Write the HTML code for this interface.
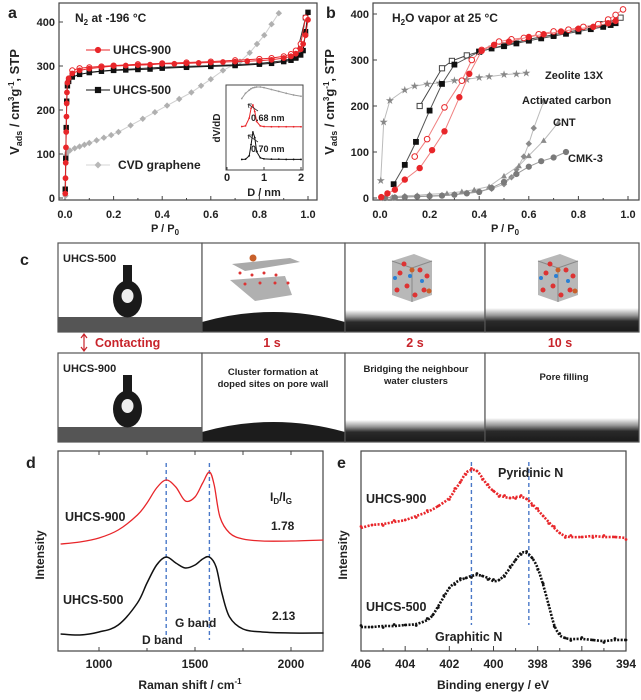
<!DOCTYPE html>
<html><head><meta charset="utf-8"><style>
html,body{margin:0;padding:0;background:#fff}
svg{display:block;font-family:"Liberation Sans",Arial,sans-serif;font-weight:bold}
text{fill:#222}
</style></head><body>
<svg id="fig" width="641" height="700" viewBox="0 0 641 700" xmlns="http://www.w3.org/2000/svg">
<g id="pa"></g>
<g id="pb"></g>
<g id="pc"></g>
<g id="pd"></g>
<g id="pe"></g>
</svg>
<script>
// ---------- Panel a data (N2 isotherms) ----------
const aP900 = [0.001,0.002,0.003,0.004,0.005,0.006,0.007,0.008,0.01,0.015,0.03,0.06,0.1,0.15,0.2,0.25,0.3,0.35,0.4,0.45,0.5,0.55,0.6,0.65,0.7,0.75,0.8,0.85,0.9,0.93,0.95,0.97,0.98,0.99,1.0];
const aV900 = [10,45,80,115,150,185,215,240,262,272,283,290,294,297,300,301,302,303,305,305,306,307,308,309,310,311,312,314,318,322,328,338,350,370,405];
const aP900d = [0.03,0.06,0.1,0.15,0.2,0.3,0.4,0.5,0.6,0.7,0.8,0.85,0.9,0.93,0.95,0.97,0.99];
const aV900d = [290,295,297,299,301,304,306,308,310,313,316,318,322,327,335,350,410];
const aP500 = [0.001,0.003,0.005,0.007,0.01,0.015,0.03,0.06,0.1,0.15,0.2,0.25,0.3,0.35,0.4,0.5,0.6,0.7,0.8,0.85,0.9,0.93,0.95,0.97,0.98,0.99,1.0];
const aV500 = [20,90,160,220,255,265,275,281,285,288,290,291,292,293,295,297,299,301,304,306,310,313,318,325,335,378,422];
const aP500d = [0.1,0.2,0.3,0.4,0.5,0.6,0.7,0.8,0.9,0.95,0.99];
const aV500d = [286,291,294,297,299,301,303,306,312,320,410];
const aPcvd = [0.002,0.005,0.01,0.02,0.04,0.06,0.08,0.1,0.13,0.16,0.19,0.22,0.27,0.32,0.37,0.42,0.47,0.52,0.56,0.6,0.65,0.72,0.76,0.79,0.82,0.85,0.88];
const aVcvd = [5,98,104,108,113,117,121,125,131,137,143,150,165,180,195,210,225,240,255,270,290,310,330,350,370,395,420];
const aXTicks = ["0.0","0.2","0.4","0.6","0.8","1.0"];
const aYTicks = ["0","100","200","300","400"];
// inset (pore size distributions)
const inD = [0.4,0.5,0.6,0.65,0.7,0.75,0.8,0.9,1.0,1.2,1.4,1.6,1.8,2.0];
const inGrey = [0.45,0.7,0.85,0.92,0.96,0.98,1.0,1.0,0.97,0.88,0.79,0.7,0.62,0.56];
const inRed = [0.02,0.05,0.4,0.85,1.0,0.7,0.25,0.05,0.02,0.01,0.01,0.01,0.01,0.01];
const inBlack = [0.02,0.03,0.15,0.55,1.0,0.8,0.3,0.08,0.04,0.03,0.03,0.02,0.02,0.02];

// ---------- Panel b data (H2O isotherms) ----------
const bZeoP = [0.003,0.015,0.04,0.1,0.14,0.19,0.24,0.3,0.35,0.4,0.44,0.5,0.55,0.59];
const bZeoV = [38,165,212,235,243,248,250,255,258,262,264,268,270,272];
const b500P = [0.055,0.1,0.145,0.2,0.25,0.3,0.4,0.45,0.5,0.55,0.6,0.65,0.7,0.75,0.8,0.85,0.9,0.93,0.95];
const b500V = [30,72,122,190,248,290,318,325,330,336,342,347,352,357,362,367,372,376,380];
const b500dP = [0.16,0.25,0.29,0.35,0.4,0.5,0.6,0.7,0.8,0.9,0.97];
const b500dV = [200,282,298,310,318,332,345,355,365,378,392];
const b900P = [0.005,0.03,0.06,0.1,0.16,0.21,0.26,0.32,0.36,0.41,0.46,0.52,0.6,0.66,0.73,0.8,0.86,0.92,0.95];
const b900V = [2,10,18,40,65,104,145,219,270,320,333,340,350,356,362,368,372,380,385];
const b900dP = [0.14,0.19,0.26,0.33,0.37,0.41,0.48,0.53,0.58,0.64,0.7,0.76,0.82,0.88,0.92,0.95,0.98];
const b900dV = [90,128,197,255,300,322,340,345,348,356,362,366,372,378,388,398,410];
const bACP = [0.01,0.05,0.1,0.15,0.2,0.25,0.3,0.35,0.4,0.45,0.5,0.53,0.55,0.58,0.6,0.62,0.66];
const bACV = [0,1,3,4,5,6,8,11,15,20,30,45,62,90,118,152,210];
const bCNTP = [0.02,0.06,0.1,0.15,0.2,0.27,0.33,0.38,0.44,0.5,0.56,0.6,0.66,0.72];
const bCNTV = [0,3,5,6,8,10,14,18,25,48,70,92,125,165];
const bCMKP = [0.02,0.06,0.1,0.15,0.2,0.25,0.3,0.35,0.4,0.45,0.5,0.55,0.6,0.65,0.7,0.75];
const bCMKV = [0,1,2,3,4,5,7,10,13,22,35,52,68,80,88,100];

// ---------- Panel d data (Raman) ----------
const dShift900 = [800,900,1000,1100,1200,1250,1300,1350,1400,1450,1500,1540,1575,1600,1630,1680,1750,1850,2000,2170];
const dInt900 = [101,103,107,115,130,142,157,165,158,144,148,162,173,160,128,112,106,104,104,105];
const dShift500 = [800,900,1000,1100,1200,1250,1300,1350,1400,1450,1500,1540,1575,1610,1640,1680,1750,1850,2000,2170];
const dInt500 = [11,10,13,20,42,62,80,88,82,77,80,86,88,78,52,28,16,13,12,12];
const dTicks = [1000,1500,2000];
const dBands = [1350,1575];

// ---------- Panel e data (XPS N1s) ----------
const eBE900 = [406,405.5,405,404.5,404,403.5,403,402.5,402,401.75,401.5,401.25,401,400.75,400.5,400.25,400,399.75,399.5,399.25,399,398.75,398.5,398.25,398,397.75,397.5,397.25,397,396.75,396.5,396,395.5,395,394.5,394];
const eInt900 = [123,126,127,129,131,135,139,145,153,161,169,178,181,180,173,165,160,156,154,153,154,154,152,147,141,135,129,123,118,115,114,114,115,114,114,113];
const eBE500 = [406,405.5,405,404.5,404,403.5,403,402.75,402.5,402.25,402,401.75,401.5,401.25,401,400.75,400.5,400.25,400,399.75,399.5,399.25,399,398.75,398.5,398.25,398,397.75,397.5,397.25,397,396.75,396.5,396,395.5,395,394.5,394];
const eInt500 = [24,24,25,25,26,27,31,36,45,54,63,68,71,73,75,76,75,73,70,71,76,83,91,98,98,93,83,66,46,26,16,13,12,12,11,10,11,11];
const eTicks = [406,404,402,400,398,396,394];
const ePeaks = [401,398.4];

const NS="http://www.w3.org/2000/svg";
function mk(parent,tag,attrs,txt){const e=document.createElementNS(NS,tag);for(const k in attrs)e.setAttribute(k,attrs[k]);if(txt!==undefined)e.textContent=txt;parent.appendChild(e);return e;}
function lin(d0,d1,r0,r1){return v=>r0+(v-d0)*(r1-r0)/(d1-d0);}
function pathD(xs,ys,sx,sy){return xs.map((x,i)=>(i?'L':'M')+sx(x).toFixed(1)+','+sy(ys[i]).toFixed(1)).join('');}
function smoothD(xs,ys,sx,sy){const p=xs.map((x,i)=>[sx(x),sy(ys[i])]);let d='M'+p[0][0]+','+p[0][1];for(let i=0;i<p.length-1;i++){const p0=p[i-1]||p[i],p1=p[i],p2=p[i+1],p3=p[i+2]||p2;const c1=[p1[0]+(p2[0]-p0[0])/6,p1[1]+(p2[1]-p0[1])/6],c2=[p2[0]-(p3[0]-p1[0])/6,p2[1]-(p3[1]-p1[1])/6];d+='C'+c1.join(',')+' '+c2.join(',')+' '+p2.join(',');}return d;}
function marker(g,type,x,y,color,fill,r){
  let el;
  if(type==='circle') el=mk(g,'circle',{cx:x,cy:y,r:r,fill:fill?color:'#fff',stroke:color,'stroke-width':1});
  else if(type==='square') el=mk(g,'rect',{x:x-r,y:y-r,width:2*r,height:2*r,fill:fill?color:'#fff',stroke:color,'stroke-width':1});
  else if(type==='diamond') el=mk(g,'path',{d:`M${x},${y-r}L${x+r},${y}L${x},${y+r}L${x-r},${y}Z`,fill:color});
  else if(type==='tri') el=mk(g,'path',{d:`M${x},${y-r}L${x+r},${y+r*0.8}L${x-r},${y+r*0.8}Z`,fill:color});
  else if(type==='star') el=mk(g,'text',{x:x,y:y+3,'font-size':9,'text-anchor':'middle',fill:color,style:'fill:'+color},'★');
  return el;
}
function series(g,name,xs,ys,sx,sy,color,type,fill,r,lineColor){
  const sg=mk(g,'g',{});
  
  
  mk(sg,'path',{d:pathD(xs,ys,sx,sy),fill:'none',stroke:lineColor||color,'stroke-width':1});
  xs.forEach((x,i)=>{const m=marker(sg,type,sx(x),sy(ys[i]),color,fill,r);
    
    });
}
function axesBox(g,name,x0,y0,x1,y1){const b=mk(g,'rect',{x:x0,y:y0,width:x1-x0,height:y1-y0,fill:'none',stroke:'#444','stroke-width':1.2});
  
  }
function txt(g,name,x,y,s,size,opts){opts=opts||{};const t=mk(g,'text',Object.assign({x:x,y:y,'font-size':size},opts.attr||{}),s);
  
  
  if(opts.color)t.style.fill=opts.color;return t;}

// ================= Panel a =================
(function(){
const g=document.getElementById('pa');
const sx=lin(0,1,65,308), sy=lin(0,400,198,22);
axesBox(g,'plot-area-a',59,3,317,200);
aXTicks.forEach(t=>{const v=parseFloat(t),x=sx(v);mk(g,'line',{x1:x,y1:200,x2:x,y2:196,stroke:'#444'});txt(g,'x-tick-label',x,218,t,11,{attr:{'text-anchor':'middle'}});});
[0.1,0.3,0.5,0.7,0.9].forEach(v=>mk(g,'line',{x1:sx(v),y1:200,x2:sx(v),y2:198,stroke:'#444'}));
aYTicks.forEach(t=>{const y=sy(+t);mk(g,'line',{x1:59,y1:y,x2:63,y2:y,stroke:'#444'});txt(g,'y-tick-label',55,y+4,t,11,{attr:{'text-anchor':'end'}});});
txt(g,'panel-label-a',8,18,'a',16);
const xt=txt(g,'x-axis-title',165,232,'P / P',11,{attr:{'text-anchor':'middle'}});mk(xt,'tspan',{'font-size':8,dy:3},'0');
const yt=mk(g,'text',{transform:'translate(19,102) rotate(-90)','text-anchor':'middle','font-size':13});


yt.innerHTML='V<tspan font-size="9" dy="3">ads</tspan><tspan dy="-3"> / cm</tspan><tspan font-size="8" dy="-5">3</tspan><tspan dy="5">g</tspan><tspan font-size="8" dy="-5">-1</tspan><tspan dy="5">, STP</tspan>';
const t1=txt(g,'annotation-n2',75,22,'N',12);t1.innerHTML='N<tspan font-size="8" dy="3">2</tspan><tspan dy="-3"> at -196 °C</tspan>';
series(g,'series-cvd-graphene',aPcvd,aVcvd,sx,sy,'#b0b0b0','diamond',true,3.2,'#cfcfcf');
series(g,'series-uhcs500-des',aP500d,aV500d,sx,sy,'#333','square',false,2.3);
series(g,'series-uhcs500-ads',aP500,aV500,sx,sy,'#111','square',true,2.2);
series(g,'series-uhcs900-des',aP900d,aV900d,sx,sy,'#e8262a','circle',false,2.6);
series(g,'series-uhcs900-ads',aP900,aV900,sx,sy,'#e8262a','circle',true,2.4);
[[50,'#e8262a','circle','UHCS-900'],[90,'#111','square','UHCS-500'],[165,'#b8b8b8','diamond','CVD graphene']].forEach(([y,c,tp,l])=>{
  const lg=mk(g,'g',{});
  
  
  mk(lg,'line',{x1:86,y1:y,x2:110,y2:y,stroke:tp==='diamond'?'#d5d5d5':c});marker(lg,tp,98,y,c,true,tp==='diamond'?3.5:2.6);
  txt(lg,'legend-label',tp==='diamond'?118:113,y+4,l,12);});
const ix=lin(0,2,227,301);
const ig=mk(g,'g',{});


mk(ig,'rect',{x:226,y:85,width:77,height:85,fill:'#fff',stroke:'#444'});
[0,1,2].forEach(v=>{mk(ig,'line',{x1:ix(v),y1:170,x2:ix(v),y2:167,stroke:'#444'});txt(ig,'inset-tick-label',ix(v),181,String(v),11,{attr:{'text-anchor':'middle'}});});
txt(ig,'inset-x-title',264,196,'D / nm',11,{attr:{'text-anchor':'middle'}});
const iyt=mk(ig,'text',{transform:'translate(220,128) rotate(-90)','text-anchor':'middle','font-size':10},'dV/dD');


[[inGrey,'#999',108,21],[inRed,'#e8262a',127,22],[inBlack,'#111',160,28]].forEach(([arr,c,base,h])=>{
  const sy2=v=>base-v*h;mk(ig,'path',{d:pathD(inD,arr,ix,sy2),fill:'none',stroke:c,'stroke-width':1});
  inD.forEach((d,i)=>{const p=mk(ig,'circle',{cx:ix(d),cy:sy2(arr[i]),r:0.9,fill:c});
    
    });});
txt(ig,'inset-label-068',251,121,'0.68 nm',9);txt(ig,'inset-label-070',251,152,'0.70 nm',9);
mk(ig,'path',{d:'M258,111L248,104M248,104l1,4M248,104l4,0',stroke:'#333',fill:'none','stroke-width':0.8});
mk(ig,'path',{d:'M258,142L248,135M248,135l1,4M248,135l4,0',stroke:'#333',fill:'none','stroke-width':0.8});
})();

// ================= Panel b =================
(function(){
const g=document.getElementById('pb');
const sx=lin(0,1,380,628), sy=lin(0,400,198,14);
axesBox(g,'plot-area-b',373,3,639,200);
aXTicks.forEach(t=>{const x=sx(parseFloat(t));mk(g,'line',{x1:x,y1:200,x2:x,y2:196,stroke:'#444'});txt(g,'x-tick-label',x,218,t,11,{attr:{'text-anchor':'middle'}});});
[0.1,0.3,0.5,0.7,0.9].forEach(v=>mk(g,'line',{x1:sx(v),y1:200,x2:sx(v),y2:198,stroke:'#444'}));
aYTicks.forEach(t=>{const y=sy(+t);mk(g,'line',{x1:373,y1:y,x2:377,y2:y,stroke:'#444'});txt(g,'y-tick-label',369,y+4,t,11,{attr:{'text-anchor':'end'}});});
txt(g,'panel-label-b',326,18,'b',16);
const xt=txt(g,'x-axis-title',505,232,'P / P',11,{attr:{'text-anchor':'middle'}});mk(xt,'tspan',{'font-size':8,dy:3},'0');
const yt=mk(g,'text',{transform:'translate(334,102) rotate(-90)','text-anchor':'middle','font-size':13});


yt.innerHTML='V<tspan font-size="9" dy="3">ads</tspan><tspan dy="-3">  / cm</tspan><tspan font-size="8" dy="-5">3</tspan><tspan dy="5">g</tspan><tspan font-size="8" dy="-5">-1</tspan><tspan dy="5">, STP</tspan>';
const t1=txt(g,'annotation-h2o',392,22,'',12);t1.innerHTML='H<tspan font-size="8" dy="3">2</tspan><tspan dy="-3">O vapor at 25 °C</tspan>';
series(g,'series-zeolite-13x',bZeoP,bZeoV,sx,sy,'#888','star',true,3,'#bbb');
series(g,'series-activated-carbon',bACP,bACV,sx,sy,'#8a8a8a','diamond',true,3.2,'#bbb');
series(g,'series-cnt',bCNTP,bCNTV,sx,sy,'#8a8a8a','tri',true,3,'#bbb');
series(g,'series-cmk3',bCMKP,bCMKV,sx,sy,'#7a7a7a','circle',true,2.6,'#999');
series(g,'series-uhcs500-des',b500dP,b500dV,sx,sy,'#444','square',false,2.6);
series(g,'series-uhcs500-ads',b500P,b500V,sx,sy,'#111','square',true,2.4,'#555');
series(g,'series-uhcs900-des',b900dP,b900dV,sx,sy,'#e8262a','circle',false,2.8,'#f08080');
series(g,'series-uhcs900-ads',b900P,b900V,sx,sy,'#e8262a','circle',true,2.7,'#f08080');
txt(g,'label-zeolite',545,79,'Zeolite 13X',11);
txt(g,'label-activated-carbon',522,104,'Activated carbon',11);
txt(g,'label-cnt',553,126,'CNT',11);
txt(g,'label-cmk3',568,162,'CMK-3',11);
})();

// ================= Panel c =================
(function(){
const g=document.getElementById('pc');
mk(g,'defs',{}).innerHTML='<linearGradient id="gnd" x1="0" y1="0" x2="0" y2="1"><stop offset="0" stop-color="#fff"/><stop offset="0.3" stop-color="#999"/><stop offset="0.55" stop-color="#2a2a2a"/><stop offset="1" stop-color="#1a1a1a"/></linearGradient>';
txt(g,'panel-label-c',20,265,'c',16);
const cols=[58,202,345,485,639];
[[243,332],[353,442]].forEach(([y0,y1],row)=>{
  for(let i=0;i<4;i++){
    const cg=mk(g,'g',{});
    
    
    const x0=cols[i],x1=cols[i+1];
    mk(cg,'rect',{x:x0,y:y0,width:x1-x0,height:y1-y0,fill:'#fff'});
    if(i===0){
      mk(cg,'rect',{x:x0,y:y1-15,width:x1-x0,height:15,fill:'#555'});
      mk(cg,'rect',{x:123,y:y0+22,width:9,height:22,fill:'#1a1a1a'});
      mk(cg,'ellipse',{cx:127.5,cy:y1-33,rx:14.5,ry:18.5,fill:'#1a1a1a'});
      mk(cg,'ellipse',{cx:127.5,cy:y1-36,rx:6,ry:7,fill:'#eee'});
    } else if(i===1){
      mk(cg,'rect',{x:x0,y:y1-10,width:x1-x0,height:10,fill:'#1c1c1c'});
      mk(cg,'path',{d:`M${x0},${y1-10}Q${(x0+x1)/2},${y1-30} ${x1},${y1-10}Z`,fill:'#1c1c1c'});
    } else {
      const h=i===3?24:22;
      mk(cg,'rect',{x:x0,y:y1-h,width:x1-x0,height:h,fill:'url(#gnd)'});
    }
    mk(cg,'rect',{x:x0,y:y0,width:x1-x0,height:y1-y0,fill:'none',stroke:'#555','stroke-width':1.2});
  }
});
function cube(cx,cy){const mg=mk(g,'g',{});
  
  
  mk(mg,'path',{d:`M${cx-20},${cy-17}L${cx+2},${cy-24}L${cx+20},${cy-17}L${cx+20},${cy+17}L${cx},${cy+24}L${cx-20},${cy+17}Z`,fill:'#b8b8b8'});
  mk(mg,'path',{d:`M${cx-20},${cy-17}L${cx},${cy-10}L${cx+20},${cy-17}M${cx},${cy-10}L${cx},${cy+24}`,stroke:'#888',fill:'none'});
  [[-12,-5],[8,-8],[-5,8],[12,12],[-15,12],[3,17],[15,-2],[-8,-14]].forEach(([a,b])=>mk(mg,'circle',{cx:cx+a,cy:cy+b,r:2.5,fill:'#d33'}));
  [[-17,0],[10,3],[-2,-2]].forEach(([a,b])=>mk(mg,'circle',{cx:cx+a,cy:cy+b,r:2,fill:'#2a7fd4'}));
  [[0,-8],[17,13]].forEach(([a,b])=>mk(mg,'circle',{cx:cx+a,cy:cy+b,r:2.5,fill:'#c8602a'}));}
cube(412,278);cube(558,278);
const mg=mk(g,'g',{});


mk(mg,'path',{d:'M232,264L290,258L300,262L245,271Z',fill:'#aaa'});
mk(mg,'path',{d:'M230,280L285,276L292,295L255,301Z',fill:'#b0b0b0'});
[[240,273],[252,275],[264,273],[276,275],[245,284],[260,283],[275,283],[288,283]].forEach(([a,b])=>mk(mg,'circle',{cx:a,cy:b,r:1.5,fill:'#d33'}));
mk(mg,'circle',{cx:253,cy:258,r:3.5,fill:'#c8602a'});
const red='#c8242b';
txt(g,'uhcs500-label',63,262,'UHCS-500',11);
txt(g,'uhcs900-label',63,372,'UHCS-900',11);
const ar=mk(g,'path',{d:'M84,335L84,350M81,338L84,334L87,338M81,347L84,351L87,347',stroke:red,fill:'none','stroke-width':1.2});


txt(g,'time-contacting',95,347,'Contacting',12.5,{color:red});
txt(g,'time-1s',272,347,'1 s',12.5,{color:red,attr:{'text-anchor':'middle'}});
txt(g,'time-2s',415,347,'2 s',12.5,{color:red,attr:{'text-anchor':'middle'}});
txt(g,'time-10s',560,347,'10 s',12.5,{color:red,attr:{'text-anchor':'middle'}});
txt(g,'stage-1-line1',273,375,'Cluster formation at',9.5,{attr:{'text-anchor':'middle'}});
txt(g,'stage-1-line2',273,387,'doped sites on pore wall',9.5,{attr:{'text-anchor':'middle'}});
txt(g,'stage-2-line1',416,372,'Bridging the neighbour',9.5,{attr:{'text-anchor':'middle'}});
txt(g,'stage-2-line2',416,384,'water clusters',9.5,{attr:{'text-anchor':'middle'}});
txt(g,'stage-3',564,380,'Pore filling',9.5,{attr:{'text-anchor':'middle'}});
})();

// ================= Panel d =================
(function(){
const g=document.getElementById('pd');
const sx=lin(1000,2000,99,291), sy=v=>645-v;
axesBox(g,'plot-area-d',58,451,323,651);
dTicks.forEach(t=>{const x=sx(t);mk(g,'line',{x1:x,y1:451,x2:x,y2:455,stroke:'#444'});mk(g,'line',{x1:x,y1:651,x2:x,y2:647,stroke:'#444'});txt(g,'x-tick-label',x,668,String(t),12,{attr:{'text-anchor':'middle'}});});
[1250,1750].forEach(t=>{mk(g,'line',{x1:sx(t),y1:451,x2:sx(t),y2:455,stroke:'#444'});mk(g,'line',{x1:sx(t),y1:651,x2:sx(t),y2:648,stroke:'#444'});});
txt(g,'panel-label-d',26,468,'d',16);
const xt=txt(g,'x-axis-title',190,689,'Raman shift / cm',12,{attr:{'text-anchor':'middle'}});mk(xt,'tspan',{'font-size':8,dy:-5},'-1');
const yt=mk(g,'text',{transform:'translate(44,555) rotate(-90)','text-anchor':'middle','font-size':12},'Intensity');


dBands.forEach(b=>{const l=mk(g,'line',{x1:sx(b),y1:463,x2:sx(b),y2:640,stroke:'#4a78c8','stroke-width':1.4,'stroke-dasharray':'4 3'});
  
  });
const r=mk(g,'path',{d:smoothD(dShift900,dInt900,sx,sy),fill:'none',stroke:'#e8262a','stroke-width':1.3});


const k=mk(g,'path',{d:smoothD(dShift500,dInt500,sx,sy),fill:'none',stroke:'#111','stroke-width':1.5});


txt(g,'label-uhcs900',65,521,'UHCS-900',12.5);
txt(g,'label-uhcs500',63,604,'UHCS-500',12.5);
const id=txt(g,'ratio-title',270,501,'',12);id.innerHTML='I<tspan font-size="8" dy="3">D</tspan><tspan dy="-3">/I</tspan><tspan font-size="8" dy="3">G</tspan>';
txt(g,'ratio-900',271,530,'1.78',12);
txt(g,'ratio-500',272,620,'2.13',12);
txt(g,'g-band-label',175,627,'G band',12);
txt(g,'d-band-label',142,644,'D band',12);
})();

// ================= Panel e =================
(function(){
const g=document.getElementById('pe');
const sx=lin(406,394,361,626), sy=v=>651-v;
axesBox(g,'plot-area-e',361,451,626,651);
eTicks.forEach(t=>{const x=sx(t);mk(g,'line',{x1:x,y1:651,x2:x,y2:646,stroke:'#444'});txt(g,'x-tick-label',x,668,String(t),12,{attr:{'text-anchor':'middle'}});});
[405,403,401,399,397,395].forEach(t=>mk(g,'line',{x1:sx(t),y1:651,x2:sx(t),y2:648,stroke:'#444'}));
txt(g,'panel-label-e',337,468,'e',16);
txt(g,'x-axis-title',493,689,'Binding energy / eV',12,{attr:{'text-anchor':'middle'}});
const yt=mk(g,'text',{transform:'translate(347,555) rotate(-90)','text-anchor':'middle','font-size':12},'Intensity');


ePeaks.forEach(b=>{const l=mk(g,'line',{x1:sx(b),y1:462,x2:sx(b),y2:625,stroke:'#4a78c8','stroke-width':1.4,'stroke-dasharray':'4 3'});
  
  });
[[eBE900,eInt900,'#e8262a','spectrum-uhcs900'],[eBE500,eInt500,'#111','spectrum-uhcs500']].forEach(([xs,ys,c,n])=>{
  const sg=mk(g,'g',{});
  
  
  mk(sg,'path',{d:smoothD(xs,ys,sx,sy),fill:'none',stroke:c,'stroke-width':2.6,'stroke-dasharray':'2 1.4'});
  xs.forEach((x,i)=>{const p=mk(sg,'circle',{cx:sx(x),cy:sy(ys[i])+((i%3)-1)*1.5,r:1.4,fill:c});
    
    });
});
txt(g,'label-pyridinic',498,477,'Pyridinic N',12.5);
txt(g,'label-uhcs900',366,503,'UHCS-900',12.5);
txt(g,'label-uhcs500',366,611,'UHCS-500',12.5);
txt(g,'label-graphitic',435,641,'Graphitic N',12.5);
})();
</script>
</body></html>
